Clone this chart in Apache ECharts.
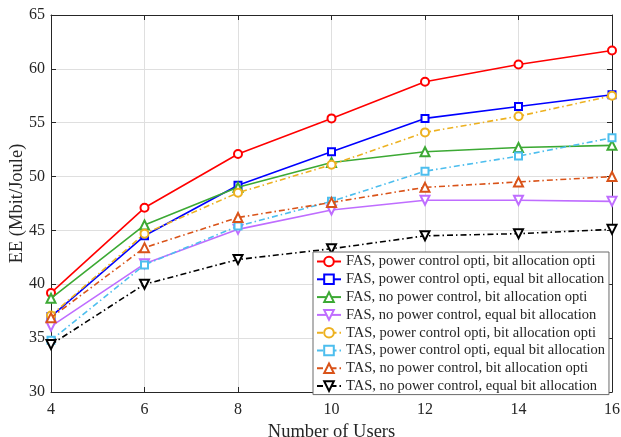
<!DOCTYPE html>
<html>
<head>
<meta charset="utf-8">
<script src="https://cdn.jsdelivr.net/npm/echarts@6/dist/echarts.min.js"></script>
<style>html,body{margin:0;padding:0;background:#fff;}#c{width:621px;height:437px;}</style>
</head>
<body>
<div id="c"></div>
<script>
const users = [4, 6, 8, 10, 12, 14, 16];
const seriesNames = [
  'FAS, power control opti, bit allocation opti',
  'FAS, power control opti, equal bit allocation',
  'FAS, no power control, bit allocation opti',
  'FAS, no power control, equal bit allocation',
  'TAS, power control opti, bit allocation opti',
  'TAS, power control opti, equal bit allocation',
  'TAS, no power control, bit allocation opti',
  'TAS, no power control, equal bit allocation'
];
const fasPcBo = [39.2, 47.1, 52.1, 55.4, 58.8, 60.4, 61.7];
const fasPcEq = [37.0, 44.5, 49.2, 52.3, 55.4, 56.5, 57.6];
const fasNoBo = [38.7, 45.5, 49.0, 51.3, 52.3, 52.7, 52.9];
const fasNoEq = [36.1, 41.9, 45.1, 46.9, 47.8, 47.8, 47.7];
const tasPcBo = [37.1, 44.7, 48.5, 51.1, 54.1, 55.6, 57.5];
const tasPcEq = [34.8, 41.8, 45.4, 47.7, 50.5, 51.9, 53.6];
const tasNoBo = [36.9, 43.4, 46.2, 47.6, 49.0, 49.5, 50.0];
const tasNoEq = [34.4, 40.0, 42.3, 43.3, 44.5, 44.7, 45.1];
const xTicks = [4, 6, 8, 10, 12, 14, 16];
const yTicks = [30, 35, 40, 45, 50, 55, 60, 65];

const allData = [fasPcBo, fasPcEq, fasNoBo, fasNoEq, tasPcBo, tasPcEq, tasNoBo, tasNoEq];
const colors = ['#FF0000', '#0000FF', '#3CA934', '#BF6DFF', '#EDB120', '#4DBEEE', '#D95319', '#000000'];
const symbols = ['emptyCircle', 'emptyRect', 'emptyTriangle', 'emptyTriangle', 'emptyCircle', 'emptyRect', 'emptyTriangle', 'emptyTriangle'];
const rotates = [0, 0, 0, 180, 0, 0, 0, 180];
const sizes = [8, 7, 9, 9, 8, 7, 9, 9];
const dashDot = [6, 3, 1.5, 3];

const font = 'Liberation Serif, Times New Roman, serif';
const series = allData.map((d, i) => ({
  name: seriesNames[i],
  type: 'line',
  data: users.map((u, k) => [u, d[k]]),
  xAxisIndex: 0,
  yAxisIndex: 0,
  symbol: symbols[i],
  symbolSize: sizes[i],
  symbolRotate: rotates[i],
  showAllSymbol: true,
  color: colors[i],
  itemStyle: { color: colors[i], borderWidth: 1.4 },
  lineStyle: { color: colors[i], width: 1.6, type: i >= 4 ? dashDot : 'solid' },
  animation: false,
  z: 3 + i
}));

const chart = echarts.init(document.getElementById('c'), null, { renderer: 'canvas' });
chart.setOption({
  animation: false,
  backgroundColor: '#fff',
  grid: { left: 51, right: 9, top: 15, bottom: 45, containLabel: false, outerBoundsMode: 'none' },
  xAxis: [{
    type: 'value', min: 4, max: 16, interval: 2, position: 'bottom',
    name: 'Number of Users', nameLocation: 'middle', nameGap: 31, nameMoveOverlap: false,
    nameTextStyle: { fontFamily: font, fontSize: 18.5, color: '#262626' },
    axisLine: { show: true, lineStyle: { color: '#262626', width: 1 } },
    axisTick: { show: true, inside: true, length: 5, lineStyle: { color: '#262626' } },
    axisLabel: { fontFamily: font, fontSize: 16, color: '#262626', margin: 10 },
    splitLine: { show: true, lineStyle: { color: '#DFDFDF', width: 1 } }
  }, {
    type: 'value', min: 4, max: 16, interval: 2, position: 'top',
    axisLine: { show: true, onZero: false, lineStyle: { color: '#262626', width: 1 } },
    axisTick: { show: true, inside: true, length: 5, lineStyle: { color: '#262626' } },
    axisLabel: { show: false }, splitLine: { show: false }
  }],
  yAxis: [{
    type: 'value', min: 30, max: 65, interval: 5, position: 'left',
    name: 'EE (Mbit/Joule)', nameLocation: 'middle', nameGap: 24, nameMoveOverlap: false,
    nameTextStyle: { fontFamily: font, fontSize: 18.5, color: '#262626' },
    axisLine: { show: true, lineStyle: { color: '#262626', width: 1 } },
    axisTick: { show: true, inside: true, length: 5, lineStyle: { color: '#262626' } },
    axisLabel: { fontFamily: font, fontSize: 16, color: '#262626', margin: 6 },
    splitLine: { show: true, lineStyle: { color: '#DFDFDF', width: 1 } }
  }, {
    type: 'value', min: 30, max: 65, interval: 5, position: 'right',
    axisLine: { show: true, onZero: false, lineStyle: { color: '#262626', width: 1 } },
    axisTick: { show: true, inside: true, length: 5, lineStyle: { color: '#262626' } },
    axisLabel: { show: false }, splitLine: { show: false }
  }],
  legend: {
    orient: 'vertical',
    left: 313, top: 252,
    width: 298,
    data: seriesNames,
    itemWidth: 24, itemHeight: 12,
    itemGap: 2.8,
    padding: [2, 4, 1, 3],
    backgroundColor: '#fff',
    borderColor: '#6b6b6b', borderWidth: 1,
    textStyle: { fontFamily: font, fontSize: 14.5, color: '#262626', lineHeight: 14.5 },
    z: 20
  },
  series: series
});
</script>
</body>
</html>
